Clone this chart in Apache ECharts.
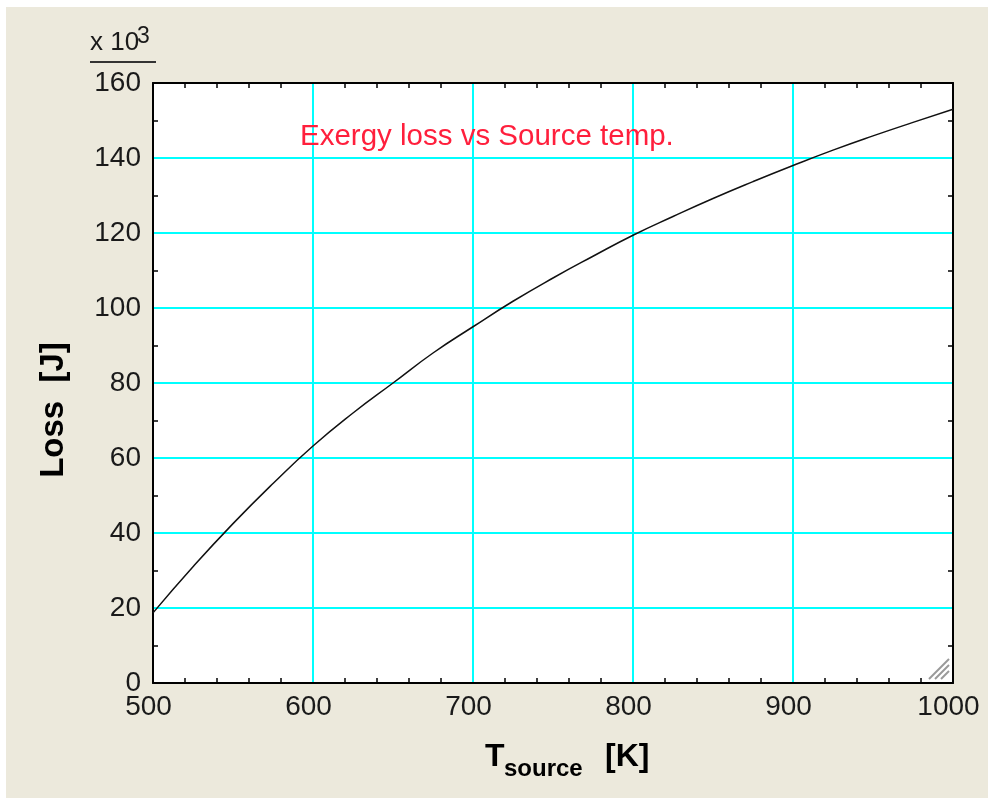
<!DOCTYPE html>
<html>
<head>
<meta charset="utf-8">
<script src="https://cdn.jsdelivr.net/npm/echarts@6/dist/echarts.min.js"></script>
<style>
  html, body { margin: 0; padding: 0; background: #fff; }
  #main { position: absolute; left: 6px; top: 7px; width: 982px; height: 791px; background: #ece9dc; }
</style>
</head>
<body>
<div id="main"></div>
<script>
// source temperature [K]
var tSource = [500, 525, 550, 575, 600, 625, 650, 675, 700, 725, 750,
               775, 800, 825, 850, 875, 900, 925, 950, 975, 1000];
// exergy loss [J] x 10^3
var loss = [18.7, 31, 42.5, 53.2, 63.2, 72, 80, 88, 95, 101.8, 108,
            113.8, 119.4, 124.4, 129.2, 133.7, 138, 142.1, 145.9, 149.5, 153];
var yTicks = [0, 20, 40, 60, 80, 100, 120, 140, 160];
var xTicks = [500, 600, 700, 800, 900, 1000];

var font = 'Liberation Sans, Arial, sans-serif';
var chart = echarts.init(document.getElementById('main'));

var option = {
  animation: false,
  grid: {
    left: 147, top: 76, right: 35, bottom: 115,
    show: true, backgroundColor: '#fff', borderWidth: 0
  },
  xAxis: [
    {
      type: 'value', min: xTicks[0], max: xTicks[xTicks.length - 1], interval: 100,
      axisLine: { show: true, onZero: false, lineStyle: { color: '#000', width: 2 } },
      axisTick: { show: false, inside: true },
      minorTick: { show: true, splitNumber: 5, length: 5, lineStyle: { color: '#000', width: 1.5 } },
      axisLabel: { fontSize: 28, fontFamily: font, color: '#1a1a1a', margin: 10, padding: [0, 9, 0, 0],
                   formatter: function (v) { return String(v); } },
      splitLine: { show: true, showMinLine: false, showMaxLine: false, lineStyle: { color: '#00ffff', width: 2 } }
    },
    {
      type: 'value', position: 'top', min: 500, max: 1000, interval: 100,
      axisLine: { show: true, onZero: false, lineStyle: { color: '#000', width: 2 } },
      axisTick: { show: false, inside: true },
      minorTick: { show: true, splitNumber: 5, length: 5, lineStyle: { color: '#000', width: 1.5 } },
      axisLabel: { show: false },
      splitLine: { show: false }
    }
  ],
  yAxis: [
    {
      type: 'value', min: yTicks[0], max: yTicks[yTicks.length - 1], interval: 20,
      axisLine: { show: true, onZero: false, lineStyle: { color: '#000', width: 2 } },
      axisTick: { show: false, inside: true },
      minorTick: { show: true, splitNumber: 2, length: 5, lineStyle: { color: '#000', width: 1.5 } },
      axisLabel: { fontSize: 28, fontFamily: font, color: '#1a1a1a', margin: 12 },
      splitLine: { show: true, showMinLine: false, showMaxLine: false, lineStyle: { color: '#00ffff', width: 2 } }
    },
    {
      type: 'value', position: 'right', min: 0, max: 160, interval: 20,
      axisLine: { show: true, onZero: false, lineStyle: { color: '#000', width: 2 } },
      axisTick: { show: false, inside: true },
      minorTick: { show: true, splitNumber: 2, length: 5, lineStyle: { color: '#000', width: 1.5 } },
      axisLabel: { show: false },
      splitLine: { show: false }
    }
  ],
  series: [{
    type: 'line',
    data: tSource.map(function (t, i) { return [t, loss[i]]; }),
    smooth: true,
    showSymbol: false,
    lineStyle: { color: '#111', width: 1.5 },
    z: 3
  }],
  graphic: [
    // title inside plot
    { type: 'text', left: 294, top: 115, z: 10,
      style: { text: 'Exergy loss vs Source temp.', font: '29.5px ' + font, fill: '#ff1f3c' } },
    // multiplier above y axis
    { type: 'text', x: 84, y: 36, z: 10,
      style: { text: 'x 10', font: '26px ' + font, fill: '#1a1a1a', verticalAlign: 'middle' } },
    { type: 'text', x: 131, y: 30, z: 10,
      style: { text: '3', font: '23px ' + font, fill: '#1a1a1a', verticalAlign: 'middle' } },
    { type: 'line', z: 10, shape: { x1: 84, y1: 55, x2: 150, y2: 55 },
      style: { stroke: '#333', lineWidth: 2 } },
    // y axis name
    { type: 'text', x: 48, y: 403, rotation: Math.PI / 2, z: 10,
      style: { text: 'Loss  [J]', font: 'bold 33px ' + font, fill: '#000', align: 'center', verticalAlign: 'middle' } },
    // x axis name with subscript
    { type: 'text', x: 479, y: 750, z: 10,
      style: { text: 'T', font: 'bold 32px ' + font, fill: '#000', verticalAlign: 'middle' } },
    { type: 'text', x: 498, y: 762, z: 10,
      style: { text: 'source', font: 'bold 24px ' + font, fill: '#000', verticalAlign: 'middle' } },
    { type: 'text', x: 599, y: 750, z: 10,
      style: { text: '[K]', font: 'bold 32px ' + font, fill: '#000', verticalAlign: 'middle' } },
    // resize grip in the corner
    { type: 'line', z: 10, shape: { x1: 923, y1: 672, x2: 943, y2: 652 }, style: { stroke: '#999', lineWidth: 2 } },
    { type: 'line', z: 10, shape: { x1: 929, y1: 672, x2: 943, y2: 658 }, style: { stroke: '#999', lineWidth: 2 } },
    { type: 'line', z: 10, shape: { x1: 935, y1: 672, x2: 943, y2: 664 }, style: { stroke: '#999', lineWidth: 2 } }
  ]
};
chart.setOption(option);
</script>
</body>
</html>
